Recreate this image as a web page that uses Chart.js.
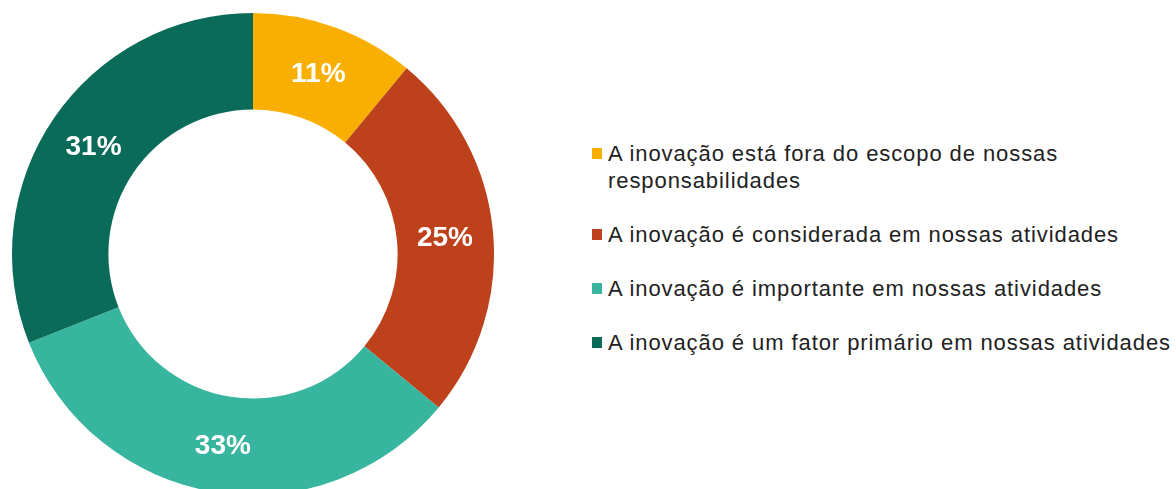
<!DOCTYPE html>
<html>
<head>
<meta charset="utf-8">
<script src="https://cdn.jsdelivr.net/npm/chart.js@4"></script>
<style>
  html, body { margin: 0; padding: 0; background: #fff; overflow: hidden; }
  body { width: 1176px; height: 489px; position: relative; font-family: "Liberation Sans", Arial, sans-serif; }
  #wrap { position: absolute; left: 12px; top: 13px; width: 482px; height: 482px; }
  #legend { position: absolute; left: 592px; top: 140px; width: 590px; }
  .item { display: flex; align-items: flex-start; margin-bottom: 27px; }
  .box { width: 10px; height: 11px; margin-top: 8px; margin-right: 6px; flex: none; }
  .txt { font-size: 22px; letter-spacing: 0.92px; line-height: 27px; color: #222; width: 575px; }
</style>
</head>
<body>
<div id="wrap"><canvas id="graph"></canvas></div>
<div id="legend"></div>
<script>
// chart data
const categories = [
  'A inovação está fora do escopo de nossas responsabilidades',
  'A inovação é considerada em nossas atividades',
  'A inovação é importante em nossas atividades',
  'A inovação é um fator primário em nossas atividades'
];
const values = [11, 25, 33, 31];
const colors = ['#F9AF00', '#BD411A', '#38B59E', '#0A6B59'];

// draws the percentage inside each slice
const sliceLabels = {
  id: 'sliceLabels',
  afterDatasetsDraw(chart) {
    const ctx = chart.ctx;
    const meta = chart.getDatasetMeta(0);
    ctx.save();
    ctx.fillStyle = '#fff';
    ctx.font = 'bold 28px "Liberation Sans", Arial, sans-serif';
    ctx.textAlign = 'center';
    ctx.textBaseline = 'middle';
    meta.data.forEach((arc, i) => {
      const p = arc.tooltipPosition();
      ctx.fillText(values[i] + '%', p.x, p.y + 2);
    });
    ctx.restore();
  }
};

const ctx = document.getElementById('graph').getContext('2d');
new Chart(ctx, {
  type: 'doughnut',
  data: {
    labels: categories,
    datasets: [{
      data: values,
      backgroundColor: colors,
      borderWidth: 0
    }]
  },
  options: {
    responsive: true,
    maintainAspectRatio: false,
    animation: false,
    cutout: '60%',
    layout: { padding: 0 },
    plugins: {
      legend: { display: false },
      tooltip: { enabled: false }
    }
  },
  plugins: [sliceLabels]
});

// html legend so the long label can wrap
const legend = document.getElementById('legend');
categories.forEach((c, i) => {
  const row = document.createElement('div');
  row.className = 'item';
  row.innerHTML = '<span class="box" style="background:' + colors[i] + '"></span><span class="txt">' + c + '</span>';
  legend.appendChild(row);
});
</script>
</body>
</html>
